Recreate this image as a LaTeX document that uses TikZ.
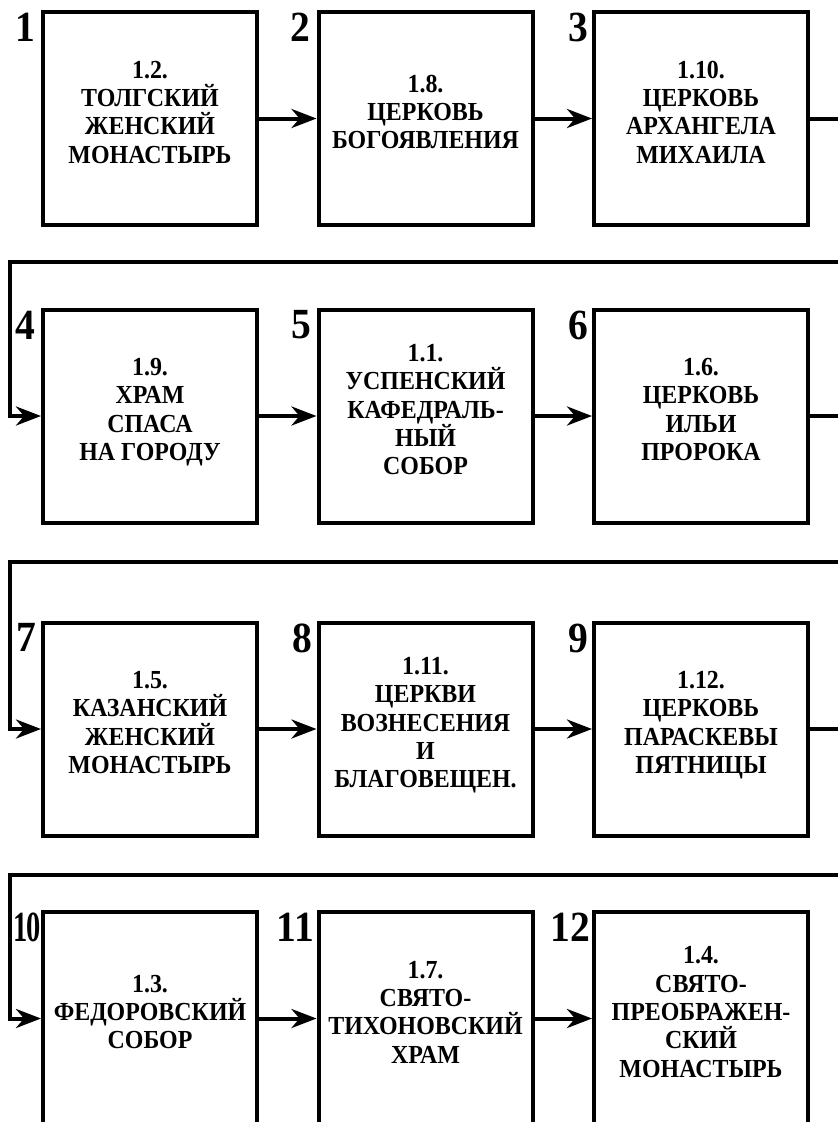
\documentclass[tikz,border=0pt]{standalone}
\usepackage{fontspec}
\setmainfont{Liberation Serif}[FakeStretch=0.92]
\usetikzlibrary{arrows.meta}
\tikzset{
  stn/.style={draw,line width=4pt,minimum width=214pt,minimum height=213pt,inner sep=0pt,align=center,text depth=13pt,font=\bfseries\fontsize{26}{28.3}\selectfont},
  num/.style={anchor=north east,inner sep=0pt,font=\bfseries\fontsize{43}{43}\selectfont},
  flow/.style={line width=4pt,-{Stealth[length=25pt,width=19pt,inset=8pt]}},
}
\begin{document}
\begin{tikzpicture}[x=1pt,y=-1pt]
\useasboundingbox (0,0) rectangle (838,1122);
\clip (0,0) rectangle (838,1122);
% stations
\foreach \n/\cx/\cy/\lb/\dx/\txt in {
 1/150/118.5/1/-6/{1.2.\\ТОЛГСКИЙ\\ЖЕНСКИЙ\\МОНАСТЫРЬ},
 2/425.5/118.5/2/-6/{1.8.\\ЦЕРКОВЬ\\БОГОЯВЛЕНИЯ},
 3/701/118.5/3/-4/{1.10.\\ЦЕРКОВЬ\\АРХАНГЕЛА\\МИХАИЛА},
 4/150/416/4/-6/{1.9.\\ХРАМ\\СПАСА\\НА ГОРОДУ},
 5/425.5/416/5/-5/{1.1.\\УСПЕНСКИЙ\\КАФЕДРАЛЬ-\\НЫЙ\\СОБОР},
 6/701/416/6/-4/{1.6.\\ЦЕРКОВЬ\\ИЛЬИ\\ПРОРОКА},
 7/150/729/7/-5/{1.5.\\КАЗАНСКИЙ\\ЖЕНСКИЙ\\МОНАСТЫРЬ},
 8/425.5/729/8/-4/{1.11.\\ЦЕРКВИ\\ВОЗНЕСЕНИЯ\\И\\БЛАГОВЕЩЕН.},
 9/701/729/9/-4/{1.12.\\ЦЕРКОВЬ\\ПАРАСКЕВЫ\\ПЯТНИЦЫ},
 10/150/1018.5/{\scalebox{0.72}[1]{1\kern-2pt0}}/0/{1.3.\\ФЕДОРОВСКИЙ\\СОБОР},
 11/425.5/1018.5/{1\kern-2pt1}/-2/{1.7.\\СВЯТО-\\ТИХОНОВСКИЙ\\ХРАМ},
 12/701/1018.5/12/-2/{1.4.\\СВЯТО-\\ПРЕОБРАЖЕН-\\СКИЙ\\МОНАСТЫРЬ}}{
 \node[stn](b\n) at (\cx,\cy) {\txt};
 \node[num](n\n) at ([xshift=\dx pt,yshift=-3pt]b\n.north west) {\lb};
}
% links inside a row
\foreach \a/\b in {1/2,2/3,4/5,5/6,7/8,8/9,10/11,11/12}{\draw[flow](b\a)--(b\b);}
% links from row to row
\foreach \a/\b/\ry in {3/4/262,6/7/562,9/10/875}{
 \coordinate (e\a) at (860,\ry);
 \coordinate (w\a) at (10,\ry);
 \draw[flow](b\a.east)-|(e\a)--(w\a)|-(b\b.west);
}
\end{tikzpicture}
\end{document}
